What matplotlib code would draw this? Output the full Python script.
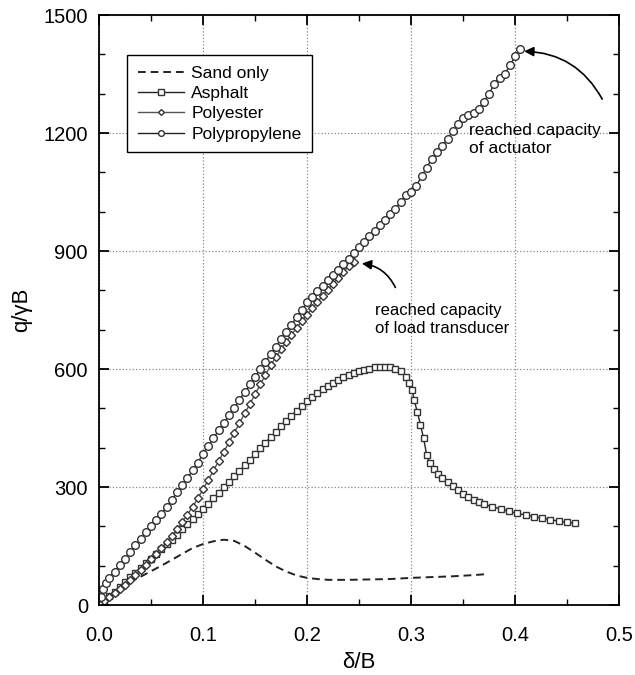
import matplotlib
matplotlib.use("Agg")
import matplotlib.pyplot as plt
from matplotlib.ticker import MultipleLocator, FormatStrFormatter

plt.rcParams['font.family'] = ['Liberation Sans', 'DejaVu Sans']

# ---- data ----
sand_x = [0, 0.005, 0.01, 0.02, 0.03, 0.04, 0.05, 0.06, 0.07, 0.08, 0.09, 0.1, 0.11,
          0.12, 0.13, 0.14, 0.15, 0.16, 0.17, 0.18, 0.19, 0.2, 0.21, 0.22, 0.24, 0.26,
          0.28, 0.3, 0.32, 0.34, 0.36, 0.37]
sand_y = [0, 12, 25, 42, 58, 72, 86, 100, 115, 130, 145, 155, 162,
          166, 163, 150, 133, 115, 98, 85, 75, 69, 66, 64, 64, 65,
          66, 69, 71, 73, 76, 78]

asph_x = [0, 0.005, 0.01, 0.015, 0.02, 0.025, 0.03, 0.035, 0.04, 0.045, 0.05, 0.055,
          0.06, 0.065, 0.07, 0.075, 0.08, 0.085, 0.09, 0.095, 0.1, 0.105, 0.11, 0.115,
          0.12, 0.125, 0.13, 0.135, 0.14, 0.145, 0.15, 0.155, 0.16, 0.165, 0.17, 0.175,
          0.18, 0.185, 0.19, 0.195, 0.2, 0.205, 0.21, 0.215, 0.22, 0.225, 0.23, 0.235,
          0.24, 0.245, 0.25, 0.255, 0.26, 0.265, 0.27, 0.275, 0.28, 0.285, 0.29, 0.295,
          0.298, 0.301, 0.303, 0.306, 0.309, 0.312, 0.315, 0.318, 0.322, 0.326, 0.33,
          0.335, 0.34, 0.345, 0.35, 0.355, 0.36, 0.365, 0.37, 0.378, 0.386, 0.394, 0.402,
          0.41, 0.418, 0.426, 0.434, 0.442, 0.45, 0.458]
asph_y = [0, 10, 22, 34, 46, 58, 70, 82, 94, 106, 118, 130,
          142, 154, 166, 179, 192, 205, 218, 231, 244, 257, 271, 285,
          299, 313, 327, 341, 355, 369, 384, 398, 413, 427, 441, 455,
          468, 481, 494, 506, 518, 528, 538, 548, 557, 565, 572, 579,
          585, 590, 594, 598, 601, 604, 606, 606, 605, 601, 594, 580,
          565, 547, 520, 491, 458, 424, 381, 360, 345, 333, 322,
          312, 302, 292, 283, 274, 268, 262, 256, 250, 244, 238, 233,
          229, 225, 221, 217, 213, 210, 208]

poly_x = [0, 0.005, 0.01, 0.015, 0.02, 0.025, 0.03, 0.035, 0.04, 0.045, 0.05, 0.055,
          0.06, 0.065, 0.07, 0.075, 0.08, 0.085, 0.09, 0.095, 0.1, 0.105, 0.11, 0.115,
          0.12, 0.125, 0.13, 0.135, 0.14, 0.145, 0.15, 0.155, 0.16, 0.165, 0.17, 0.175,
          0.18, 0.185, 0.19, 0.195, 0.2, 0.205, 0.21, 0.215, 0.22, 0.225, 0.23, 0.235,
          0.24, 0.245]
poly_y = [0, 10, 20, 30, 41, 52, 64, 76, 89, 102, 116, 130,
          145, 160, 176, 193, 211, 230, 250, 271, 295, 318, 342, 366,
          390, 414, 438, 462, 487, 511, 536, 561, 585, 609, 630, 650,
          669, 687, 705, 722, 738, 754, 770, 786, 802, 817, 832, 847,
          861, 872]

pp_x = [0, 0.002, 0.004, 0.007, 0.01, 0.015, 0.02, 0.025, 0.03, 0.035, 0.04, 0.045,
        0.05, 0.055, 0.06, 0.065, 0.07, 0.075, 0.08, 0.085, 0.09, 0.095, 0.1, 0.105,
        0.11, 0.115, 0.12, 0.125, 0.13, 0.135, 0.14, 0.145, 0.15, 0.155, 0.16, 0.165,
        0.17, 0.175, 0.18, 0.185, 0.19, 0.195, 0.2, 0.205, 0.21, 0.215, 0.22, 0.225,
        0.23, 0.235, 0.24, 0.245, 0.25, 0.255, 0.26, 0.265, 0.27, 0.275, 0.28, 0.285,
        0.29, 0.295, 0.3, 0.305, 0.31, 0.315, 0.32, 0.325, 0.33, 0.335, 0.34, 0.345,
        0.35, 0.355, 0.36, 0.365, 0.37, 0.375, 0.38, 0.385, 0.39, 0.395, 0.4, 0.405]
pp_y = [0, 20, 40, 55, 68, 85, 102, 118, 135, 152, 168, 185,
        200, 216, 232, 250, 268, 287, 305, 323, 342, 362, 385, 405,
        424, 444, 463, 483, 502, 522, 541, 561, 580, 600, 619, 638,
        657, 676, 695, 713, 732, 751, 770, 784, 798, 812, 826, 840,
        853, 867, 881, 895, 909, 923, 937, 951, 965, 980, 994, 1008,
        1025, 1042, 1050, 1065, 1090, 1112, 1135, 1152, 1168, 1185, 1205, 1222,
        1238, 1245, 1252, 1262, 1280, 1300, 1325, 1340, 1350, 1372, 1395, 1413]

fig = plt.figure(figsize=(6.35, 6.75), dpi=100)
ax = fig.add_axes([0.156, 0.1037, 0.819, 0.874])

ax.plot(sand_x, sand_y, ls=(0, (4, 2.5)), color='#222222', lw=1.4, label='Sand only')
ax.plot(asph_x, asph_y, '-s', color='#222222', lw=1.0, ms=5, mfc='white',
        mec='#333333', mew=1.0, label='Asphalt')
ax.plot(poly_x, poly_y, '-D', color='#555555', lw=1.0, ms=4, mfc='white',
        mec='#333333', mew=1.0, label='Polyester')
ax.plot(pp_x, pp_y, '-o', color='#222222', lw=1.0, ms=5.5, mfc='white',
        mec='#333333', mew=1.0, label='Polypropylene')

ax.set_xlim(0, 0.5)
ax.set_ylim(0, 1500)
ax.xaxis.set_major_locator(MultipleLocator(0.1))
ax.xaxis.set_minor_locator(MultipleLocator(0.05))
ax.xaxis.set_major_formatter(FormatStrFormatter('%.1f'))
ax.yaxis.set_major_locator(MultipleLocator(300))
ax.yaxis.set_minor_locator(MultipleLocator(100))

ax.tick_params(which='both', direction='in', top=True, right=True, labelsize=14.5)
ax.tick_params(which='major', length=7, width=1.3)
ax.tick_params(which='minor', length=4, width=1.0)
ax.tick_params(axis='x', pad=15)
ax.tick_params(axis='y', pad=8)
for s in ax.spines.values():
    s.set_linewidth(1.3)

ax.grid(True, which='major', ls=':', color='#888888', lw=0.9)

ax.set_xlabel('δ/B', fontsize=16, labelpad=5)
ax.set_ylabel('q/γB', fontsize=16, labelpad=8)

leg = ax.legend(loc='upper left', bbox_to_anchor=(0.054, 0.932), borderaxespad=0,
                fontsize=12.5, handlelength=2.7, markerscale=0.75, fancybox=False,
                framealpha=1, edgecolor='black', labelspacing=0.3,
                borderpad=0.6, handletextpad=0.4)
leg.get_frame().set_linewidth(1.0)

ax.text(0.356, 1184, 'reached capacity\nof actuator', fontsize=12.5, ha='left',
        va='center', linespacing=1.25)
ax.annotate('', xy=(0.406, 1408), xytext=(0.485, 1280),
            arrowprops=dict(arrowstyle='-|>', color='black', lw=1.2,
                            mutation_scale=14, connectionstyle='arc3,rad=0.3'))

ax.text(0.265, 726, 'reached capacity\nof load transducer', fontsize=12, ha='left',
        va='center', linespacing=1.25)
ax.annotate('', xy=(0.25, 869), xytext=(0.286, 801),
            arrowprops=dict(arrowstyle='-|>', color='black', lw=1.2,
                            mutation_scale=14, connectionstyle='arc3,rad=0.3'))

plt.savefig('out.png', dpi=100)
